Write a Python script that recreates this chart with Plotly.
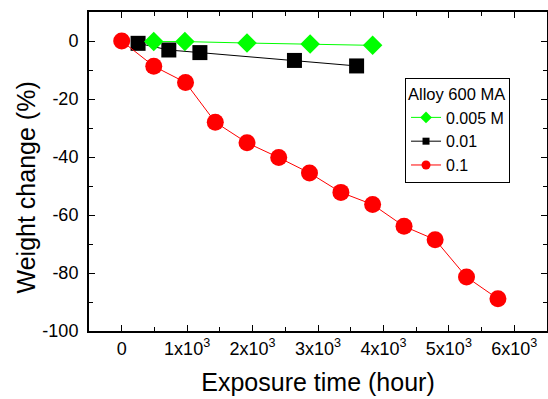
import plotly.graph_objects as go

# Data
red_x = [0, 490, 975, 1430, 1915, 2400, 2870, 3350, 3835, 4315, 4790, 5270, 5750]
red_y = [0, -8.7, -14.3, -28.0, -35.1, -40.2, -45.5, -52.2, -56.4, -63.9, -68.5, -81.4, -88.9]

green_x = [490, 965, 1915, 2880, 3835]
green_y = [-0.2, -0.2, -0.7, -1.0, -1.5]

black_x = [250, 720, 1195, 2640, 3590]
black_y = [-0.8, -3.1, -4.0, -6.7, -8.6]

series_names = ["0.005 M", "0.01", "0.1"]
legend_title = "Alloy 600 MA"

x_tickvals = [0, 1000, 2000, 3000, 4000, 5000, 6000]
x_ticktext = ["0", "1x10<sup>3</sup>", "2x10<sup>3</sup>", "3x10<sup>3</sup>",
              "4x10<sup>3</sup>", "5x10<sup>3</sup>", "6x10<sup>3</sup>"]
y_tickvals = [0, -20, -40, -60, -80, -100]
y_ticktext = ["0", "-20", "-40", "-60", "-80", "-100"]

FONT = "Liberation Sans, Arial, sans-serif"

fig = go.Figure()

fig.add_trace(go.Scatter(x=black_x, y=black_y, mode="lines+markers", showlegend=False,
                         line=dict(color="black", width=1),
                         marker=dict(symbol="square", size=15, color="black")))
fig.add_trace(go.Scatter(x=green_x, y=green_y, mode="lines+markers", showlegend=False,
                         line=dict(color="#00ff00", width=1),
                         marker=dict(symbol="diamond", size=15, color="#00ff00")))
fig.add_trace(go.Scatter(x=red_x, y=red_y, mode="lines+markers", showlegend=False,
                         line=dict(color="red", width=1),
                         marker=dict(symbol="circle", size=17, color="red")))

# legend entries with small markers
fig.add_trace(go.Scatter(x=[None], y=[None], mode="lines+markers", name=series_names[0],
                         line=dict(color="#00ff00", width=1),
                         marker=dict(symbol="diamond", size=9, color="#00ff00")))
fig.add_trace(go.Scatter(x=[None], y=[None], mode="lines+markers", name=series_names[1],
                         line=dict(color="black", width=1),
                         marker=dict(symbol="square", size=7, color="black")))
fig.add_trace(go.Scatter(x=[None], y=[None], mode="lines+markers", name=series_names[2],
                         line=dict(color="red", width=1),
                         marker=dict(symbol="circle", size=9, color="red")))

fig.update_layout(
    width=548, height=399,
    margin=dict(l=89, r=1, t=12, b=68, autoexpand=False),
    paper_bgcolor="white", plot_bgcolor="white",
    font=dict(family=FONT, color="black", size=18),
    showlegend=True,
    legend=dict(x=0.69, y=0.793, xanchor="left", yanchor="top",
                bgcolor="white", bordercolor="black", borderwidth=1,
                title=dict(text=legend_title, font=dict(size=16.5)),
                font=dict(size=16), tracegroupgap=0, itemwidth=30),
    annotations=[dict(text="Weight change (%)", textangle=-90, xref="paper", yref="paper",
                      x=-0.1376, y=0.45, xanchor="center", yanchor="middle",
                      showarrow=False, font=dict(size=25))],
)

fig.update_xaxes(range=[-500, 6500], tickvals=x_tickvals, ticktext=x_ticktext, automargin=False,
                 showgrid=False, zeroline=False, showline=True, linecolor="black", linewidth=2,
                 mirror="allticks", ticks="inside", ticklen=6, tickwidth=1, tickcolor="black",
                 minor=dict(dtick=500, tick0=0, ticks="inside", ticklen=4, tickcolor="black"),
                 tickfont=dict(size=18),
                 title=dict(text="Exposure time (hour)", font=dict(size=25), standoff=16))
fig.update_yaxes(range=[-100, 10], tickvals=y_tickvals, ticktext=y_ticktext, automargin=False,
                 showgrid=False, zeroline=False, showline=True, linecolor="black", linewidth=2,
                 mirror="allticks", ticks="inside", ticklen=6, tickwidth=1, tickcolor="black",
                 minor=dict(dtick=10, tick0=0, ticks="inside", ticklen=4, tickcolor="black"),
                 tickfont=dict(size=18), ticklabelstandoff=5)

fig.write_html("out.html", config={"displayModeBar": False},
               post_script="document.body.style.margin='0';document.body.style.overflow='hidden';")
